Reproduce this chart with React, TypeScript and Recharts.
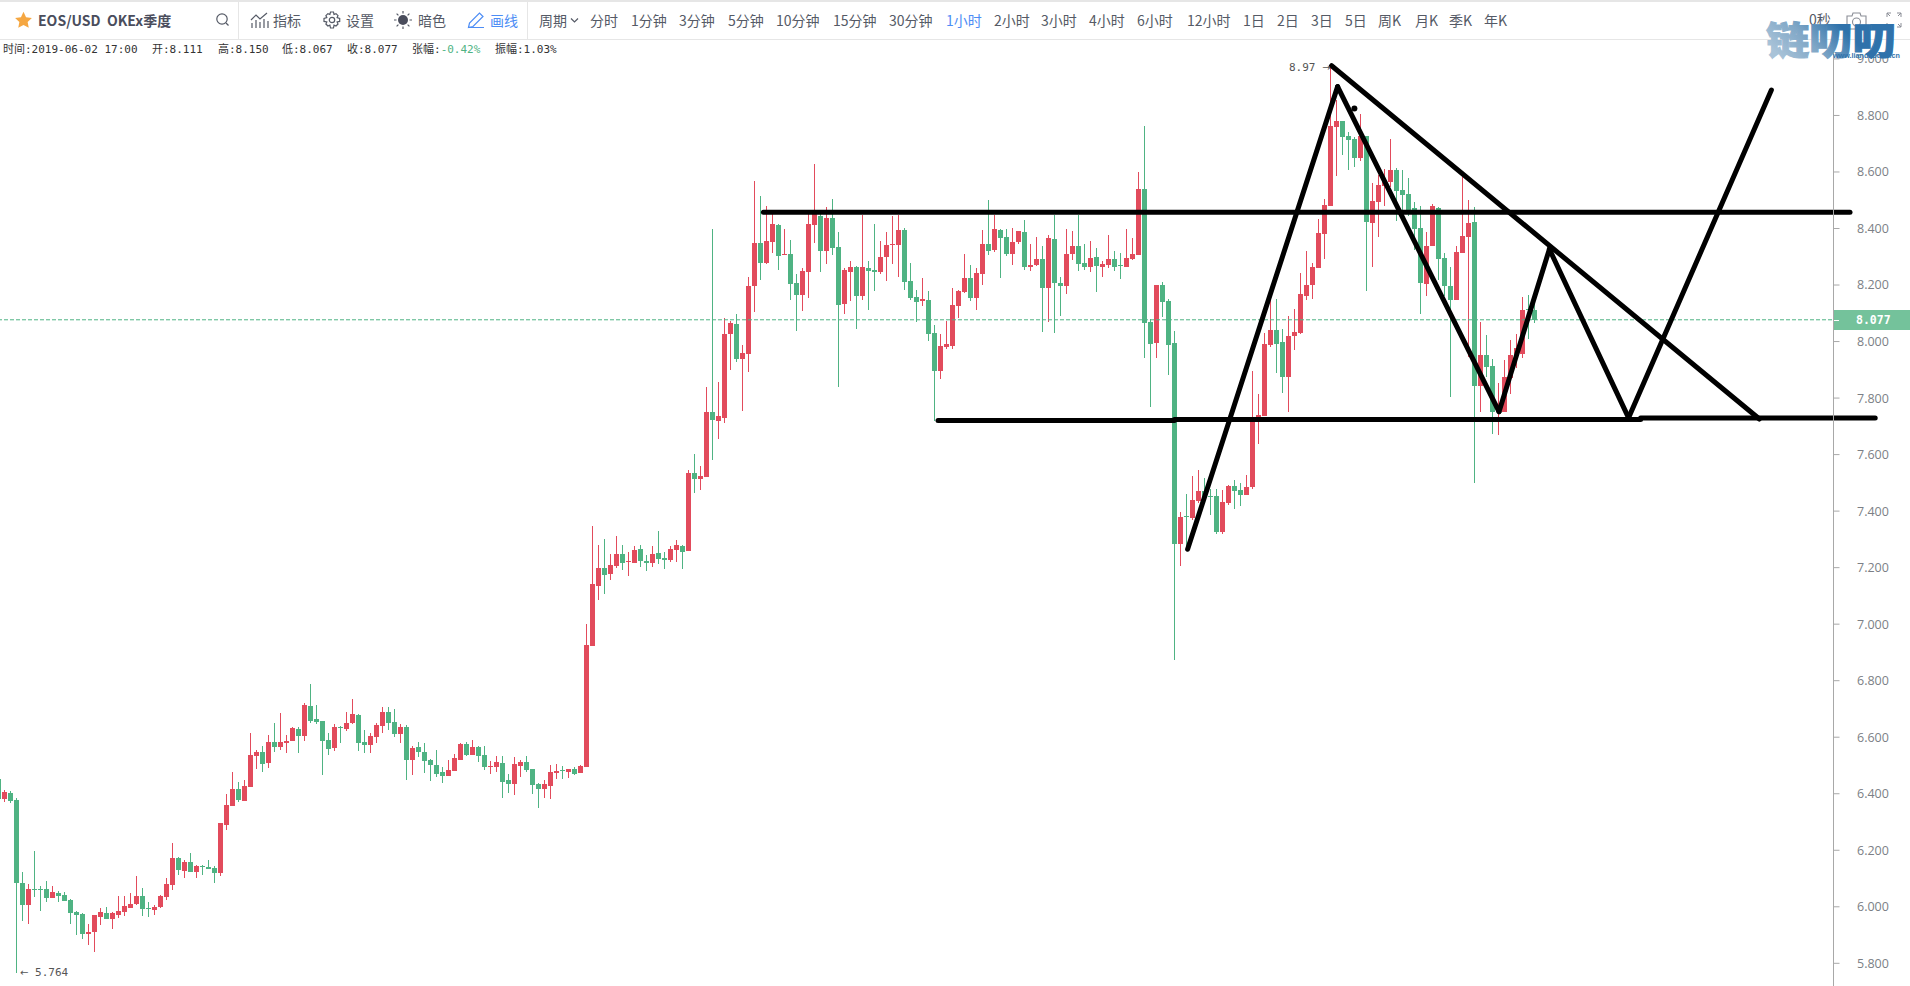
import React from "react";
import { ComposedChart, Bar, XAxis, YAxis, ReferenceLine, ReferenceDot } from "recharts";

// EOS/USD 1h candles (oldest first)
const opens = [
  6.452, 6.381, 6.403, 6.378, 6.084, 6.006, 6.063, 6.063, 6.063, 6.031,
  6.049, 6.042, 6.024, 5.982, 5.975, 5.904, 5.911, 5.964, 5.978, 5.957,
  5.971, 5.982, 5.996, 6.010, 6.038, 5.996, 5.989, 5.999, 6.035, 6.077,
  6.173, 6.127, 6.159, 6.123, 6.144, 6.141, 6.137, 6.120, 6.289, 6.357,
  6.417, 6.374, 6.424, 6.533, 6.548, 6.509, 6.583, 6.565, 6.579, 6.587,
  6.629, 6.604, 6.710, 6.664, 6.657, 6.590, 6.562, 6.636, 6.629, 6.650,
  6.678, 6.583, 6.572, 6.601, 6.640, 6.689, 6.654, 6.611, 6.636, 6.519,
  6.565, 6.548, 6.519, 6.502, 6.477, 6.463, 6.480, 6.519, 6.576, 6.537,
  6.565, 6.537, 6.495, 6.495, 6.509, 6.449, 6.434, 6.498, 6.512, 6.487,
  6.434, 6.417, 6.427, 6.473, 6.484, 6.477, 6.487, 6.473, 6.496, 6.923,
  7.135, 7.199, 7.178, 7.206, 7.248, 7.220, 7.216, 7.266, 7.224, 7.216,
  7.252, 7.234, 7.227, 7.262, 7.277, 7.259, 7.535, 7.514, 7.521, 7.751,
  7.719, 7.730, 8.027, 8.063, 7.939, 7.956, 8.197, 8.349, 8.278, 8.353,
  8.413, 8.307, 8.310, 8.208, 8.165, 8.246, 8.413, 8.445, 8.321, 8.437,
  8.335, 8.133, 8.246, 8.264, 8.162, 8.261, 8.254, 8.246, 8.300, 8.342,
  8.342, 8.395, 8.215, 8.158, 8.144, 8.147, 8.031, 7.896, 7.981, 7.985,
  8.126, 8.176, 8.225, 8.155, 8.239, 8.346, 8.324, 8.395, 8.370, 8.310,
  8.353, 8.388, 8.264, 8.271, 8.292, 8.190, 8.363, 8.208, 8.197, 8.310,
  8.338, 8.278, 8.264, 8.300, 8.264, 8.271, 8.292, 8.271, 8.264, 8.292,
  8.307, 8.540, 8.069, 7.995, 8.200, 8.144, 7.995, 7.284, 7.383, 7.376,
  7.436, 7.472, 7.454, 7.454, 7.327, 7.429, 7.489, 7.475, 7.457, 7.486,
  7.723, 7.737, 7.988, 8.041, 7.999, 7.875, 8.020, 8.030, 8.162, 8.201,
  8.261, 8.381, 8.480, 8.760, 8.781, 8.728, 8.717, 8.650, 8.728, 8.420,
  8.494, 8.551, 8.565, 8.608, 8.537, 8.523, 8.473, 8.402, 8.204, 8.339,
  8.473, 8.296, 8.197, 8.148, 8.314, 8.371, 8.424, 7.843, 7.953, 7.914,
  7.751, 7.751, 7.871, 7.953, 7.956, 8.114, 8.111,
];
const highs = [
  6.452, 6.413, 6.410, 6.385, 6.123, 6.081, 6.197, 6.074, 6.091, 6.074,
  6.056, 6.052, 6.028, 5.985, 5.978, 5.939, 5.971, 5.996, 6.000, 5.982,
  6.038, 6.038, 6.049, 6.109, 6.067, 6.017, 6.006, 6.042, 6.102, 6.227,
  6.176, 6.166, 6.190, 6.148, 6.148, 6.166, 6.144, 6.296, 6.399, 6.477,
  6.441, 6.449, 6.615, 6.555, 6.569, 6.608, 6.650, 6.684, 6.608, 6.636,
  6.636, 6.721, 6.788, 6.714, 6.657, 6.615, 6.647, 6.640, 6.689, 6.735,
  6.682, 6.625, 6.615, 6.650, 6.707, 6.707, 6.700, 6.647, 6.643, 6.569,
  6.583, 6.579, 6.523, 6.555, 6.495, 6.519, 6.540, 6.579, 6.583, 6.590,
  6.569, 6.569, 6.516, 6.533, 6.533, 6.470, 6.530, 6.519, 6.533, 6.487,
  6.438, 6.449, 6.502, 6.505, 6.498, 6.487, 6.495, 6.502, 7.001, 7.347,
  7.280, 7.301, 7.248, 7.312, 7.280, 7.255, 7.277, 7.280, 7.245, 7.277,
  7.330, 7.255, 7.277, 7.298, 7.280, 7.545, 7.602, 7.560, 7.838, 8.399,
  7.857, 8.084, 8.073, 8.098, 7.988, 8.229, 8.568, 8.515, 8.480, 8.466,
  8.416, 8.399, 8.360, 8.239, 8.261, 8.466, 8.628, 8.466, 8.476, 8.505,
  8.388, 8.261, 8.285, 8.268, 8.448, 8.285, 8.416, 8.356, 8.388, 8.445,
  8.448, 8.402, 8.278, 8.183, 8.225, 8.179, 8.059, 8.027, 8.073, 8.190,
  8.183, 8.310, 8.271, 8.261, 8.395, 8.501, 8.448, 8.399, 8.399, 8.402,
  8.392, 8.430, 8.346, 8.370, 8.338, 8.377, 8.448, 8.229, 8.399, 8.392,
  8.448, 8.346, 8.356, 8.331, 8.285, 8.377, 8.321, 8.314, 8.399, 8.367,
  8.600, 8.763, 8.080, 8.200, 8.211, 8.151, 8.038, 7.397, 7.461, 7.526,
  7.545, 7.518, 7.479, 7.479, 7.475, 7.493, 7.511, 7.500, 7.528, 7.896,
  7.815, 8.031, 8.147, 8.151, 8.045, 8.091, 8.115, 8.242, 8.321, 8.277,
  8.434, 8.505, 8.970, 8.855, 8.781, 8.743, 8.725, 8.806, 8.728, 8.562,
  8.590, 8.610, 8.717, 8.615, 8.608, 8.579, 8.494, 8.480, 8.388, 8.487,
  8.477, 8.314, 8.264, 8.339, 8.583, 8.501, 8.477, 8.069, 8.023, 7.939,
  7.854, 7.935, 8.006, 8.027, 8.157, 8.165, 8.150,
];
const lows = [
  6.375, 6.371, 6.367, 5.764, 5.950, 5.939, 6.035, 5.985, 6.017, 6.031,
  6.017, 6.021, 5.939, 5.900, 5.886, 5.865, 5.840, 5.936, 5.957, 5.922,
  5.960, 5.968, 5.996, 6.006, 5.968, 5.964, 5.971, 5.996, 6.024, 6.060,
  6.113, 6.102, 6.123, 6.102, 6.113, 6.134, 6.084, 6.109, 6.272, 6.357,
  6.371, 6.374, 6.424, 6.487, 6.477, 6.491, 6.548, 6.555, 6.544, 6.587,
  6.544, 6.587, 6.650, 6.647, 6.466, 6.537, 6.551, 6.579, 6.622, 6.647,
  6.551, 6.544, 6.544, 6.579, 6.615, 6.625, 6.601, 6.579, 6.449, 6.466,
  6.530, 6.473, 6.445, 6.459, 6.438, 6.463, 6.480, 6.519, 6.533, 6.537,
  6.512, 6.484, 6.470, 6.477, 6.385, 6.403, 6.395, 6.459, 6.477, 6.399,
  6.350, 6.385, 6.381, 6.452, 6.452, 6.456, 6.466, 6.473, 6.496, 6.923,
  7.086, 7.107, 7.156, 7.199, 7.192, 7.170, 7.216, 7.202, 7.188, 7.202,
  7.213, 7.195, 7.220, 7.221, 7.195, 7.259, 7.464, 7.475, 7.521, 7.581,
  7.656, 7.712, 7.900, 7.928, 7.755, 7.893, 8.105, 8.218, 8.275, 8.314,
  8.254, 8.307, 8.147, 8.038, 8.109, 8.155, 8.349, 8.246, 8.275, 8.307,
  7.840, 8.098, 8.144, 8.045, 8.147, 8.112, 8.179, 8.239, 8.215, 8.275,
  8.229, 8.183, 8.147, 8.070, 8.126, 8.002, 7.719, 7.868, 7.974, 7.974,
  8.084, 8.172, 8.144, 8.112, 8.200, 8.307, 8.317, 8.225, 8.303, 8.271,
  8.346, 8.254, 8.250, 8.268, 8.034, 8.070, 8.031, 8.091, 8.169, 8.289,
  8.250, 8.254, 8.246, 8.176, 8.229, 8.261, 8.250, 8.222, 8.264, 8.289,
  8.307, 7.943, 7.769, 7.942, 8.086, 7.882, 6.874, 7.206, 7.265, 7.369,
  7.429, 7.440, 7.387, 7.320, 7.320, 7.422, 7.408, 7.419, 7.457, 7.479,
  7.638, 7.737, 7.981, 7.889, 7.818, 7.751, 7.970, 8.028, 8.148, 8.150,
  8.261, 8.293, 8.480, 8.586, 8.661, 8.608, 8.618, 8.639, 8.180, 8.264,
  8.371, 8.480, 8.547, 8.427, 8.445, 8.445, 8.325, 8.098, 8.162, 8.339,
  8.219, 8.160, 7.805, 8.148, 8.314, 7.947, 7.501, 7.752, 7.875, 7.673,
  7.670, 7.751, 7.815, 7.905, 7.942, 8.009, 8.067,
];
const closes = [
  6.380, 6.406, 6.374, 6.084, 6.006, 6.063, 6.060, 6.060, 6.031, 6.052,
  6.038, 6.021, 5.978, 5.971, 5.904, 5.911, 5.971, 5.982, 5.957, 5.978,
  5.985, 6.003, 6.010, 6.038, 5.992, 5.992, 5.999, 6.038, 6.081, 6.173,
  6.130, 6.159, 6.123, 6.144, 6.141, 6.134, 6.120, 6.296, 6.360, 6.417,
  6.378, 6.427, 6.537, 6.548, 6.505, 6.583, 6.565, 6.583, 6.587, 6.632,
  6.604, 6.714, 6.657, 6.654, 6.587, 6.558, 6.636, 6.632, 6.650, 6.682,
  6.579, 6.572, 6.604, 6.643, 6.689, 6.650, 6.611, 6.636, 6.519, 6.562,
  6.548, 6.516, 6.502, 6.470, 6.463, 6.484, 6.526, 6.576, 6.537, 6.565,
  6.533, 6.495, 6.498, 6.512, 6.441, 6.434, 6.505, 6.512, 6.484, 6.431,
  6.417, 6.434, 6.477, 6.480, 6.480, 6.487, 6.470, 6.498, 6.926, 7.142,
  7.199, 7.174, 7.209, 7.248, 7.216, 7.224, 7.262, 7.224, 7.216, 7.248,
  7.231, 7.227, 7.266, 7.280, 7.255, 7.535, 7.514, 7.524, 7.751, 7.723,
  7.737, 8.027, 8.066, 7.939, 7.960, 8.197, 8.349, 8.278, 8.356, 8.416,
  8.303, 8.310, 8.204, 8.165, 8.250, 8.416, 8.466, 8.321, 8.437, 8.331,
  8.130, 8.254, 8.264, 8.162, 8.264, 8.250, 8.246, 8.300, 8.342, 8.346,
  8.395, 8.211, 8.155, 8.140, 8.151, 8.027, 7.896, 7.985, 7.992, 8.130,
  8.179, 8.225, 8.155, 8.243, 8.346, 8.321, 8.399, 8.367, 8.310, 8.353,
  8.392, 8.264, 8.271, 8.292, 8.190, 8.367, 8.208, 8.197, 8.310, 8.338,
  8.275, 8.264, 8.296, 8.268, 8.275, 8.292, 8.264, 8.268, 8.296, 8.310,
  8.540, 8.066, 7.992, 8.200, 8.140, 7.988, 7.284, 7.380, 7.380, 7.440,
  7.472, 7.450, 7.450, 7.327, 7.433, 7.489, 7.472, 7.457, 7.486, 7.723,
  7.740, 7.992, 8.041, 7.992, 7.875, 8.020, 8.034, 8.169, 8.201, 8.264,
  8.385, 8.484, 8.763, 8.781, 8.724, 8.714, 8.650, 8.728, 8.424, 8.498,
  8.554, 8.565, 8.608, 8.533, 8.519, 8.466, 8.399, 8.208, 8.339, 8.478,
  8.293, 8.197, 8.148, 8.318, 8.374, 8.420, 7.843, 7.953, 7.910, 7.751,
  7.776, 7.875, 7.953, 7.976, 8.112, 8.112, 8.077,
];

const priceTicks = [5.8, 6, 6.2, 6.4, 6.6, 6.8, 7, 7.2, 7.4, 7.6, 7.8, 8, 8.2, 8.4, 8.6, 8.8, 9];
const lastPrice = 8.077;

// hand drawn lines, as [bar index, price] pairs
const drawnLines: number[][][] = [
  [[127.4, 8.4575], [308.5, 8.4575]],
  [[156.5, 7.7207], [195.9, 7.7207]],
  [[195.9, 7.7243], [273.6, 7.7243]],
  [[273.6, 7.7296], [312.7, 7.7296]],
  [[198.1, 7.265], [223.1, 8.902]],
  [[223.1, 8.902], [250.0, 7.752]],
  [[250.0, 7.752], [258.4, 8.327]],
  [[258.4, 8.327], [271.6, 7.73]],
  [[271.6, 7.73], [295.4, 8.89]],
  [[222.1, 8.976], [293.4, 7.726]],
];
const drawnDot = [225.9, 8.825];

const toolItems = [
  ["分时", 590], ["1分钟", 631], ["3分钟", 679], ["5分钟", 728], ["10分钟", 776], ["15分钟", 833],
  ["30分钟", 889], ["1小时", 946], ["2小时", 994], ["3小时", 1041], ["4小时", 1089], ["6小时", 1137],
  ["12小时", 1187], ["1日", 1243], ["2日", 1277], ["3日", 1311], ["5日", 1345], ["周K", 1378],
  ["月K", 1415], ["季K", 1449], ["年K", 1484],
] as [string, number][];

const infoItems = [
  ["时间:2019-06-02 17:00", 3], ["开:8.111", 152], ["高:8.150", 218], ["低:8.067", 282],
  ["收:8.077", 347], ["张幅:", 412], ["振幅:1.03%", 495],
] as [string, number][];

const RED = "#e24b5c";
const GREEN = "#4fb383";
const FUTURE_BARS = 306 - opens.length;

const rows = [
  ...opens.map((o, i) => ({
    i,
    body: [Math.min(o, closes[i]), Math.max(o, closes[i])],
    wick: [lows[i], highs[i]],
    up: closes[i] >= o,
  })),
  ...Array.from({ length: FUTURE_BARS }, (_, k) => ({ i: opens.length + k })),
];

const CN = '"Noto Sans CJK SC", "Noto Sans", sans-serif';
const MONO = '"DejaVu Sans Mono", "Noto Sans CJK SC", monospace';

// canvas-like candle part: snapped to whole pixels, never thinner than 1px
// (recharts rounds the bar offset up, hence x - 1)
function Candle(props: any) {
  const { x, y, width, height, payload } = props;
  if (payload?.wick === undefined) return null;
  const top = Math.round(y);
  const h = Math.max(1, Math.round(y + height) - top);
  return <rect x={x - 1} y={top} width={width} height={h} fill={payload.up ? RED : GREEN} />;
}

const abs = (left: number, top: number, extra: React.CSSProperties = {}): React.CSSProperties => ({
  position: "absolute", left, top, whiteSpace: "nowrap", ...extra,
});

function Toolbar() {
  const label: React.CSSProperties = { fontFamily: CN, fontSize: 14, color: "#555a66", lineHeight: "20px" };
  const ic = { fill: "none", stroke: "#555a66", strokeWidth: 1.2 };
  return (
    <>
      <div style={abs(0, 0, { width: 1910, height: 2, background: "#e6e6e6" })} />
      <div style={abs(0, 39, { width: 1910, height: 1, background: "#e6e6e6" })} />
      <div style={abs(238, 2, { width: 1, height: 37, background: "#e6e6e6" })} />
      <div style={abs(527, 2, { width: 1, height: 37, background: "#e6e6e6" })} />

      <svg style={abs(14, 11)} width="19" height="18" viewBox="0 0 24 24">
        <path d="M12 1l3.4 7.2 7.8 1-5.7 5.4 1.5 7.8-7-3.8-7 3.8 1.5-7.8L.8 9.2l7.8-1z" fill="#f5a742" />
      </svg>
      <span style={abs(38, 10, { fontFamily: CN, fontSize: 14, fontWeight: 700, color: "#4a4d5c", lineHeight: "20px" })}>EOS/USD{"\u00a0\u00a0"}OKEx季度</span>

      <svg style={abs(215, 12)} width="15" height="15" viewBox="0 0 15 15" {...ic}>
        <circle cx="7" cy="7" r="5.2" /><path d="M11 11l2.5 2.5" />
      </svg>

      <svg style={abs(250, 12)} width="19" height="17" viewBox="0 0 19 17" {...ic}>
        <path d="M1 8l5-5 4 4 7-6M2 16v-5M6 16V8M10 16v-6M14 16V7M18 16V9" />
      </svg>
      <span style={abs(273, 10, label)}>指标</span>

      <svg style={abs(323, 11)} width="18" height="18" viewBox="0 0 18 18" {...ic}>
        <path d="M7.5 1h3l.5 2.5 2-.9 2 2-.9 2 2.6.8v3l-2.6.6.9 2-2 2-2-.9-.5 2.9h-3l-.6-2.9-2 .9-2-2 .9-2L1 10.4v-3l2.8-.8-.9-2 2-2 2 .9z" />
        <circle cx="9" cy="9" r="2.7" />
      </svg>
      <span style={abs(346, 10, label)}>设置</span>

      <svg style={abs(393, 10)} width="20" height="20" viewBox="0 0 20 20">
        <circle cx="10" cy="10" r="5" fill="#4a4d5c" />
        <path d="M10 1v2.5M10 16.5V19M1 10h2.5M16.5 10H19M3.6 3.6l1.8 1.8M14.6 14.6l1.8 1.8M3.6 16.4l1.8-1.8M14.6 5.4l1.8-1.8" stroke="#555a66" strokeWidth="1.2" />
      </svg>
      <span style={abs(418, 10, label)}>暗色</span>

      <svg style={abs(467, 11)} width="18" height="18" viewBox="0 0 18 18" fill="none" stroke="#4d8df5" strokeWidth="1.2">
        <path d="M1.5 16.5l1-4.5L12.5 2l3.5 3.5-10 10zM1.5 16.5H17" />
      </svg>
      <span style={abs(490, 10, { ...label, color: "#4d8df5" })}>画线</span>

      <span style={abs(539, 10, label)}>周期</span>
      <svg style={abs(570, 17)} width="9" height="7" viewBox="0 0 9 7" {...ic}><path d="M1 1.5l3.5 3.5L8 1.5" /></svg>

      {toolItems.map(([name, left]) => (
        <span key={name} style={abs(left, 10, { ...label, color: name === "1小时" ? "#4d8df5" : "#555a66" })}>{name}</span>
      ))}

      <span style={abs(1809, 9, { ...label, color: "#555a66" })}>0秒</span>
      <svg style={abs(1846, 12)} width="21" height="18" viewBox="0 0 21 18" fill="none" stroke="#8a8d96" strokeWidth="1.1">
        <path d="M1 4h5l1-3h7l1 3h5v13H1z" /><circle cx="10.5" cy="10" r="4" />
      </svg>
      <svg style={abs(1886, 12)} width="16" height="16" viewBox="0 0 16 16" fill="none" stroke="#8a8d96" strokeWidth="1">
        <path d="M1 5V1h4M15 5V1h-4M1 11v4h4M15 11v4h-4M1 1l3 3M15 1l-3 3M15 15l-3-3" />
      </svg>

      {infoItems.map(([t, left]) => (
        <span key={t} style={abs(left, 43, { fontFamily: MONO, fontSize: 11, color: "#333", lineHeight: "14px" })}>
          {t}
          {t === "张幅:" && <span style={{ color: GREEN }}>-0.42%</span>}
        </span>
      ))}
    </>
  );
}

export default function App() {
  return (
    <div style={{ position: "absolute", left: 0, top: 0, width: 1910, height: 986, overflow: "hidden", background: "#fff" }}>
      <Toolbar />

      <div style={abs(-4, 40)}>
        <ComposedChart width={1914} height={946} data={rows} margin={{ top: 0, right: 0, bottom: 0, left: 0 }}>
          <XAxis xAxisId="wick" dataKey="i" hide />
          <XAxis xAxisId="body" dataKey="i" hide />
          <XAxis xAxisId="draw" dataKey="i" type="number" domain={[-0.5, 305.5]} hide />
          <YAxis
            orientation="right"
            width={78}
            domain={[5.7197, 9.067]}
            ticks={priceTicks}
            interval={0}
            tickFormatter={(v: number) => v.toFixed(3)}
            tick={{ fill: "#7c7f86", fontSize: 12.5, fontFamily: '"Open Sans", sans-serif' }}
            tickSize={6}
            tickMargin={19}
            axisLine={{ stroke: "#a8a8a8", strokeWidth: 1, transform: "translate(1.5,0)" }}
            tickLine={{ stroke: "#a8a8a8", transform: "translate(1.5,0)" }}
          />

          <ReferenceLine xAxisId="draw" y={lastPrice} stroke={GREEN} strokeDasharray="4 2" />

          <Bar xAxisId="wick" dataKey="wick" barSize={1} shape={Candle} isAnimationActive={false} />
          <Bar xAxisId="body" dataKey="body" barSize={5} shape={Candle} isAnimationActive={false} />

          {drawnLines.map((seg, k) => (
            <ReferenceLine
              key={k}
              xAxisId="draw"
              ifOverflow="visible"
              segment={[{ x: seg[0][0], y: seg[0][1] }, { x: seg[1][0], y: seg[1][1] }]}
              stroke="#000"
              strokeWidth={5}
              strokeLinecap="round"
            />
          ))}
          <ReferenceDot xAxisId="draw" x={drawnDot[0]} y={drawnDot[1]} r={3} fill="#000" stroke="none" ifOverflow="visible" />
        </ComposedChart>
      </div>

      {/* last price tag */}
      <div style={abs(1834, 310, { width: 76, height: 20, background: "#74c29b" })} />
      <div style={abs(1834, 320, { width: 5, height: 1, background: "#fff" })} />
      <span style={abs(1856, 313, { fontFamily: MONO, fontSize: 11.5, fontWeight: 700, color: "#fff", lineHeight: "14px" })}>8.077</span>

      <span style={abs(1289, 61, { fontFamily: MONO, fontSize: 11, color: "#555", lineHeight: "14px" })}>8.97 <span style={{ fontFamily: '"DejaVu Sans"', fontSize: 10 }}>→</span></span>
      <span style={abs(20, 966, { fontFamily: MONO, fontSize: 11, color: "#555", lineHeight: "14px" })}><span style={{ fontFamily: '"DejaVu Sans"', fontSize: 10 }}>←</span> 5.764</span>

      {/* site watermark */}
      <svg style={abs(1760, 13)} width="145" height="50">
        <defs>
          <linearGradient id="wm" x1="0" y1="0.6" x2="1" y2="0.2">
            <stop offset="0" stopColor="#a9c3d8" />
            <stop offset="0.3" stopColor="#7fa6c6" />
            <stop offset="0.6" stopColor="#2f72ab" />
            <stop offset="1" stopColor="#2f72ab" />
          </linearGradient>
        </defs>
        <text x={6} y={41} fontFamily={CN} fontSize={38} fontWeight={900} fill="url(#wm)" stroke="url(#wm)" strokeWidth={1} textLength={130} lengthAdjust="spacingAndGlyphs">链叨叨</text>
      </svg>
      <span style={abs(1833, 51, { fontFamily: '"Liberation Sans", sans-serif', fontSize: 7.2, fontWeight: 700, color: "#2f72ab", lineHeight: "10px" })}>
        www.liandaodao.cn
      </span>
    </div>
  );
}
